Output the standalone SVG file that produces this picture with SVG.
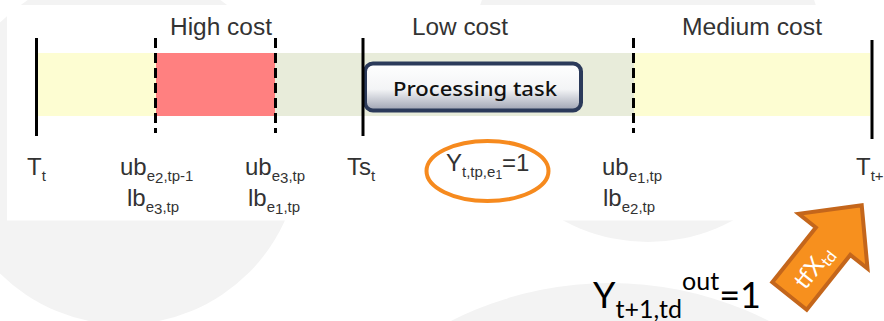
<svg xmlns="http://www.w3.org/2000/svg" width="884" height="321" viewBox="0 0 884 321">
<style>
.lbl{font-family:"Liberation Sans",Arial,sans-serif;fill:#333;font-size:24px}
.sub{font-size:15px}
.head{font-family:"Liberation Sans",Arial,sans-serif;fill:#333;font-size:23px}
.solid{stroke:#000;stroke-width:3}
.dash{stroke:#000;stroke-width:3;stroke-dasharray:10 5}
.bg{fill:#f3f3f3}
</style>
<defs>
<linearGradient id="boxg" x1="0" y1="0" x2="0" y2="1">
<stop offset="0" stop-color="#ffffff"/>
<stop offset="0.55" stop-color="#f3f4f6"/>
<stop offset="1" stop-color="#9da2b2"/>
</linearGradient>
</defs>
<rect width="884" height="321" fill="#ffffff"/>
<g id="background">
<circle class="bg" cx="124" cy="148" r="176.5"/>
<circle class="bg" cx="648" cy="64" r="178"/>
<circle class="bg" cx="610" cy="635" r="352"/>
<rect x="7" y="5" width="877" height="215.5" fill="#ffffff"/>
</g>
<g id="bands">
<rect x="37" y="53" width="119" height="63" fill="#fdfdd2"/>
<rect x="156" y="53" width="119" height="63" fill="#ff8080"/>
<rect x="275" y="53" width="359" height="63" fill="#e8ecda"/>
<rect x="634" y="53" width="236" height="63" fill="#fdfdd2"/>
</g>
<g id="connectors">
<line class="solid" x1="36.5" y1="38" x2="36.5" y2="136"/>
<line class="dash" x1="155.5" y1="38" x2="155.5" y2="133"/>
<line class="dash" x1="275.5" y1="38" x2="275.5" y2="133"/>
<line class="dash" x1="633.5" y1="38" x2="633.5" y2="133"/>
<line class="solid" x1="872" y1="40" x2="872" y2="139"/>
</g>
<g id="cost-labels">
<text class="head" x="170" y="35" textLength="102" lengthAdjust="spacingAndGlyphs">High cost</text>
<text class="head" x="412" y="35" textLength="96" lengthAdjust="spacingAndGlyphs">Low cost</text>
<text class="head" x="682" y="35" textLength="140" lengthAdjust="spacingAndGlyphs">Medium cost</text>
</g>
<g id="processing-task">
<rect x="365" y="63.5" width="216" height="47" rx="8" fill="url(#boxg)" stroke="#2b3a5a" stroke-width="4"/>
<text x="393" y="96" font-family="'Noto Sans','Open Sans',sans-serif" font-size="19" font-weight="500" fill="#111" textLength="164" lengthAdjust="spacingAndGlyphs">Processing task</text>
</g>
<line id="ts-line" class="solid" x1="363" y1="38" x2="363" y2="136"/>
<g id="time-labels">
<text class="lbl" x="27" y="175">T<tspan class="sub" dy="6">t</tspan></text>
<text class="lbl" x="120" y="175">ub<tspan class="sub" dy="6">e</tspan><tspan class="sub" dy="2">2</tspan><tspan class="sub" dy="-2">,tp-1</tspan></text>
<text class="lbl" x="127" y="206">lb<tspan class="sub" dy="6">e</tspan><tspan class="sub" dy="2">3</tspan><tspan class="sub" dy="-2">,tp</tspan></text>
<text class="lbl" x="245" y="175">ub<tspan class="sub" dy="6">e</tspan><tspan class="sub" dy="2">3</tspan><tspan class="sub" dy="-2">,tp</tspan></text>
<text class="lbl" x="248" y="206">lb<tspan class="sub" dy="6">e</tspan><tspan class="sub" dy="2">1</tspan><tspan class="sub" dy="-2">,tp</tspan></text>
<text class="lbl" x="347" y="175">Ts<tspan class="sub" dy="6">t</tspan></text>
<text class="lbl" x="602" y="175">ub<tspan class="sub" dy="6">e</tspan><tspan class="sub" dy="2">1</tspan><tspan class="sub" dy="-2">,tp</tspan></text>
<text class="lbl" x="603" y="206">lb<tspan class="sub" dy="6">e</tspan><tspan class="sub" dy="2">2</tspan><tspan class="sub" dy="-2">,tp</tspan></text>
<text class="lbl" x="856" y="175">T<tspan class="sub" dy="6">t+1</tspan></text>
</g>
<g id="y-decision">
<ellipse cx="487.5" cy="171" rx="61" ry="30" fill="none" stroke="#f68a1e" stroke-width="4"/>
<text class="lbl" x="446" y="171">Y<tspan class="sub" dy="6">t,tp,e</tspan><tspan font-size="12" dy="2">1</tspan><tspan dy="-8">=1</tspan></text>
</g>
<g id="y-out">
<text x="593" y="308" font-family="Lato,'Open Sans',sans-serif" font-size="36" fill="#000">Y<tspan font-size="25" dy="10">t+1,td</tspan><tspan font-size="25" dy="-28">out</tspan><tspan dy="18">=1</tspan></text>
</g>
<g id="tfx-arrow" transform="translate(789.5,296) rotate(-51.5)">
<polygon points="0,-22 70,-22 70,-44 116,0 70,44 70,22 0,22" fill="#f7901e" stroke="#c4661b" stroke-width="4" stroke-linejoin="miter"/>
<text x="14" y="9" font-family="Lato,'Open Sans',sans-serif" font-size="24" fill="#ffffff">tfX<tspan font-size="16" dy="4">td</tspan></text>
</g>
</svg>
